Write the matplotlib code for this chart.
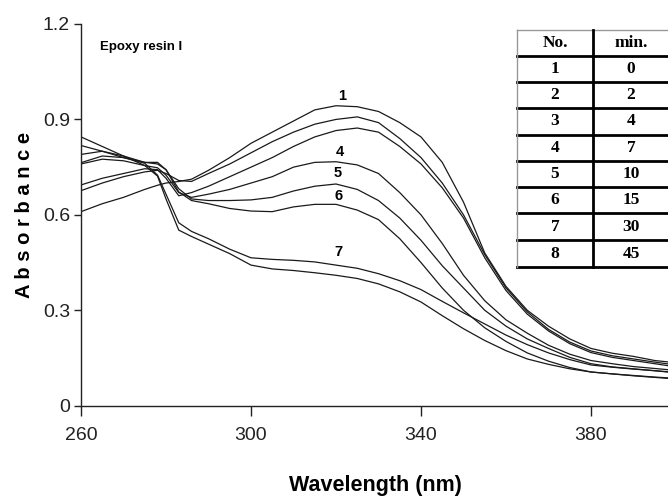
import matplotlib
matplotlib.use("Agg")
import matplotlib.pyplot as plt
from matplotlib.lines import Line2D

# ---------------- data ----------------
wavelength = [260, 265, 270, 275, 278, 280, 283, 286, 290, 295, 300, 305, 310, 315, 320,
              325, 330, 335, 340, 345, 350, 355, 360, 365, 370, 375, 380, 385, 390, 395, 400]

curve1 = [0.610, 0.635, 0.655, 0.680, 0.693, 0.700, 0.705, 0.712, 0.740, 0.780, 0.825, 0.860, 0.895, 0.930, 0.943,
          0.940, 0.925, 0.890, 0.845, 0.765, 0.640, 0.480, 0.375, 0.300, 0.250, 0.210, 0.180, 0.165, 0.155, 0.142, 0.135]
curve2 = [0.676, 0.700, 0.720, 0.735, 0.740, 0.730, 0.708, 0.705, 0.730, 0.760, 0.795, 0.830, 0.860, 0.885, 0.900,
          0.908, 0.890, 0.840, 0.780, 0.700, 0.600, 0.475, 0.370, 0.295, 0.240, 0.200, 0.172, 0.157, 0.147, 0.137, 0.128]
curve3 = [0.694, 0.715, 0.730, 0.745, 0.742, 0.715, 0.660, 0.670, 0.690, 0.720, 0.750, 0.780, 0.815, 0.845, 0.865,
          0.873, 0.860, 0.815, 0.760, 0.685, 0.590, 0.465, 0.362, 0.288, 0.235, 0.195, 0.167, 0.152, 0.142, 0.132, 0.122]
curve4 = [0.760, 0.775, 0.770, 0.755, 0.748, 0.725, 0.670, 0.655, 0.665, 0.680, 0.700, 0.720, 0.750, 0.765, 0.767,
          0.757, 0.730, 0.670, 0.600, 0.510, 0.410, 0.330, 0.270, 0.228, 0.190, 0.162, 0.142, 0.132, 0.123, 0.117, 0.111]
curve5 = [0.764, 0.785, 0.780, 0.765, 0.760, 0.742, 0.682, 0.650, 0.645, 0.645, 0.647, 0.655, 0.675, 0.690, 0.697,
          0.680, 0.645, 0.590, 0.520, 0.440, 0.370, 0.300, 0.250, 0.210, 0.180, 0.152, 0.132, 0.122, 0.116, 0.110, 0.103]
curve6 = [0.790, 0.800, 0.785, 0.765, 0.765, 0.742, 0.672, 0.645, 0.635, 0.620, 0.612, 0.610, 0.625, 0.633, 0.633,
          0.615, 0.585, 0.525, 0.450, 0.370, 0.300, 0.245, 0.202, 0.166, 0.140, 0.120, 0.106, 0.100, 0.094, 0.089, 0.084]
curve7 = [0.818, 0.800, 0.780, 0.762, 0.725, 0.665, 0.575, 0.548, 0.525, 0.492, 0.465, 0.460, 0.457, 0.452, 0.442,
          0.432, 0.415, 0.393, 0.365, 0.328, 0.292, 0.257, 0.222, 0.192, 0.166, 0.145, 0.128, 0.121, 0.115, 0.110, 0.105]
curve8 = [0.845, 0.815, 0.785, 0.755, 0.722, 0.650, 0.552, 0.532, 0.508, 0.478, 0.442, 0.430, 0.425, 0.418, 0.410,
          0.400, 0.383, 0.358, 0.326, 0.283, 0.242, 0.205, 0.173, 0.147, 0.130, 0.116, 0.106, 0.100, 0.095, 0.090, 0.086]
curves = [curve1, curve2, curve3, curve4, curve5, curve6, curve7, curve8]

curve_labels = ["1", "4", "5", "6", "7"]
label_pos = [(321.5, 0.975), (321.0, 0.797), (320.5, 0.730), (320.5, 0.658), (320.5, 0.483)]

table_header = ["No.", "min."]
table_no = ["1", "2", "3", "4", "5", "6", "7", "8"]
table_min = ["0", "2", "4", "7", "10", "15", "30", "45"]

x_ticks = [260, 300, 340, 380]
y_ticks = [0, 0.3, 0.6, 0.9, 1.2]
y_ticklabels = ["0", "0.3", "0.6", "0.9", "1.2"]

# ---------------- figure ----------------
W, H = 668, 503
fig = plt.figure(figsize=(W / 100, H / 100), dpi=100)
plt.rcParams['font.family'] = ['Liberation Sans', 'DejaVu Sans']

ax_l, ax_r, ax_t, ax_b = 81, 668, 24, 405.7
ax = fig.add_axes([ax_l / W, (H - ax_b) / H, (ax_r - ax_l) / W, (ax_b - ax_t) / H])

for c in curves:
    ax.plot(wavelength, c, color="#1a1a1a", lw=0.9)

for lab, (xx, yy) in zip(curve_labels, label_pos):
    ax.text(xx, yy, lab, ha="center", va="center", fontsize=10.5, fontweight="bold")

ax.set_xlim(260, 260 + (ax_r - ax_l) / 4.25)
ax.set_ylim(0, 1.2)
ax.set_xticks(x_ticks)
ax.set_xticklabels([str(t) for t in x_ticks])
ax.set_yticks(y_ticks)
ax.set_yticklabels(y_ticklabels)
for s in ["top", "right"]:
    ax.spines[s].set_visible(False)
for s in ["left", "bottom"]:
    ax.spines[s].set_linewidth(1.0)
    ax.spines[s].set_color("#222222")
ax.tick_params(axis="x", direction="out", length=7, width=1, labelsize=14, pad=8, colors="#222222")
ax.tick_params(axis="y", direction="out", length=5, width=1, labelsize=14, pad=3, colors="#222222")

ax.text(0.032, 0.94, "Epoxy resin I", transform=ax.transAxes, fontsize=9.5,
        fontweight="bold", ha="left", va="center")

fig.text(25 / W, 1 - 215 / H, "A b s o r b a n c e", rotation=90, fontsize=14.5,
         fontweight="bold", ha="center", va="center")
fig.text(375 / W, 1 - 485 / H, "Wavelength (nm)", fontsize=15.5,
         fontweight="bold", ha="center", va="center")

# ---------------- table (figure pixel coords) ----------------
def fx(px):
    return px / W

def fy(py):
    return 1 - py / H

t_left, t_div, t_right = 517, 593, 672
row_edges = [30, 55.5, 82, 108, 134.5, 161, 187, 213.5, 240, 267]
fig.add_artist(Line2D([fx(t_left), fx(t_right)], [fy(row_edges[0])] * 2, color="#999999", lw=1.0))
for r in row_edges[1:]:
    fig.add_artist(Line2D([fx(t_left), fx(t_right)], [fy(r)] * 2, color="black", lw=2.0))
fig.add_artist(Line2D([fx(t_left)] * 2, [fy(row_edges[0]), fy(row_edges[-1])], color="#999999", lw=1.0))
fig.add_artist(Line2D([fx(t_div)] * 2, [fy(row_edges[0]), fy(row_edges[-1])], color="black", lw=2.0))

rows = [table_header] + [[a, b] for a, b in zip(table_no, table_min)]
for i, (a, b) in enumerate(rows):
    yc = (row_edges[i] + row_edges[i + 1]) / 2
    fig.text(fx(555), fy(yc), a, ha="center", va="center", fontsize=12.5,
             fontweight="bold", family=["Liberation Serif", "DejaVu Serif"])
    fig.text(fx(631), fy(yc), b, ha="center", va="center", fontsize=12.5,
             fontweight="bold", family=["Liberation Serif", "DejaVu Serif"])

fig.savefig("out.png", dpi=100)
